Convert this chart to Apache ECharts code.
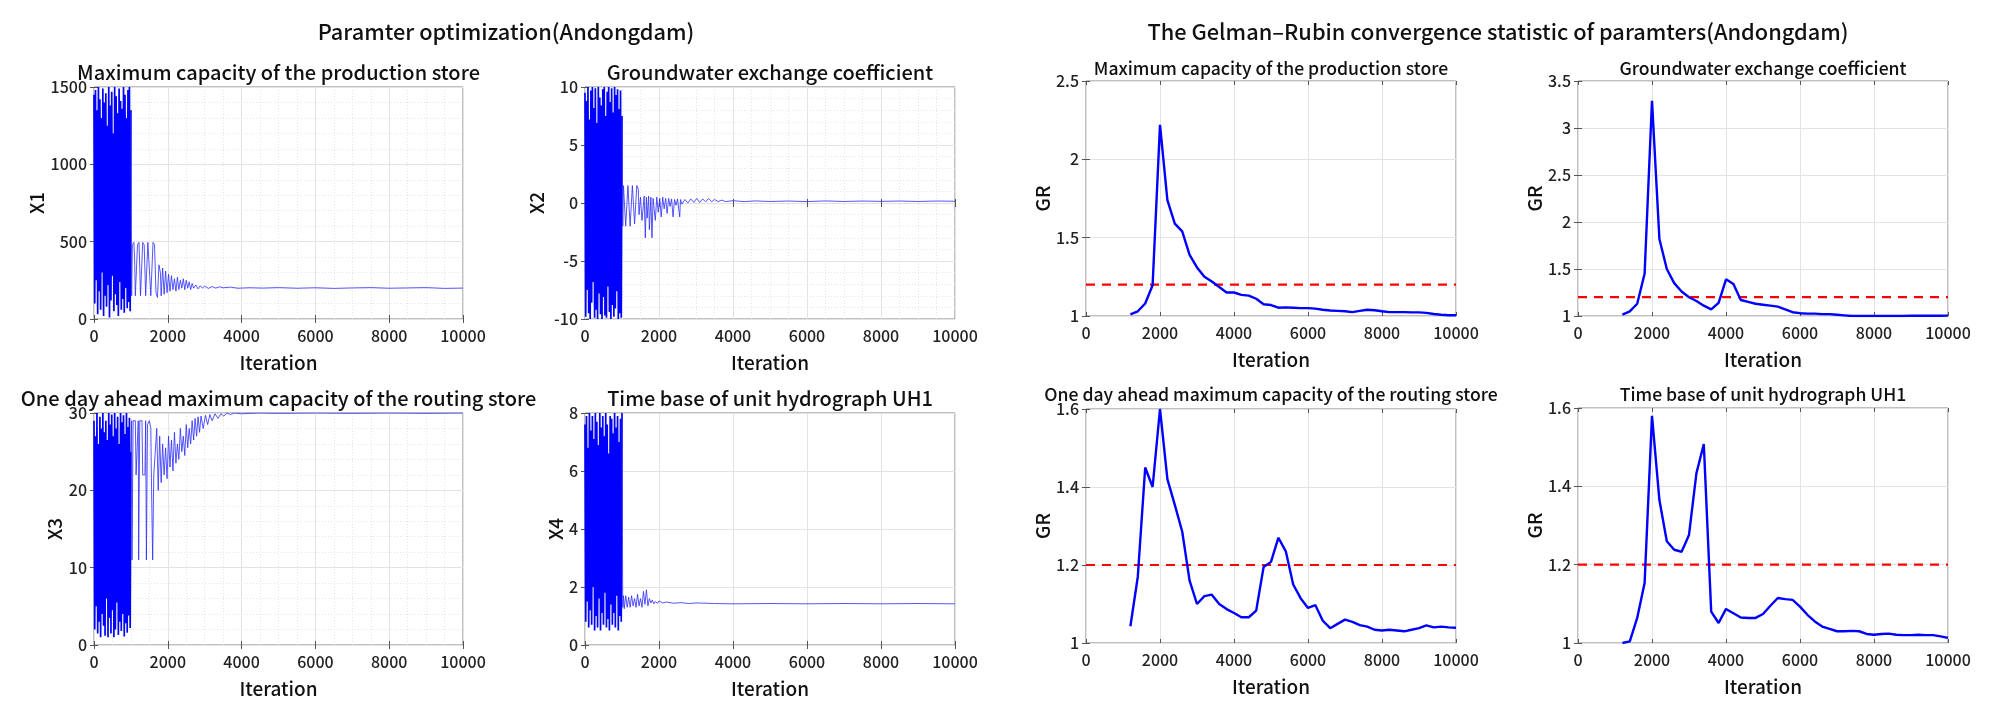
<!DOCTYPE html>
<html>
<head>
<meta charset="utf-8">
<script src="https://cdn.jsdelivr.net/npm/echarts@6/dist/echarts.min.js"></script>
<style>
html,body{margin:0;padding:0;background:#fff;}
#c{width:1999px;height:709px;}
</style>
</head>
<body>
<div id="c"></div>
<script>
// ---------------- DATA ----------------
const mainTitles = ['Paramter optimization(Andongdam)', 'The Gelman\u2013Rubin convergence statistic of paramters(Andongdam)'];
const panelTitles = [
  'Maximum capacity of the production store',
  'Groundwater exchange coefficient',
  'One day ahead maximum capacity of the routing store',
  'Time base of unit hydrograph UH1'
];
const paramNames = ['X1', 'X2', 'X3', 'X4'];
const xName = 'Iteration';
const grName = 'GR';
const grThreshold = 1.2;

// parameter traces: [iteration, value]; burn-in part (0-1000) and the rest
const x1Burn = [
 [0,1450],[20,100],[40,1480],[60,250],[80,1350],[100,30],[120,1500],[140,180],[160,1420],[180,60],
 [200,1300],[220,300],[240,1490],[260,20],[280,1400],[300,150],[320,1460],[340,80],[360,1250],[380,220],
 [400,1500],[420,10],[440,1380],[460,120],[480,1470],[500,280],[520,1200],[540,50],[560,1500],[580,160],
 [600,1440],[620,90],[640,1330],[660,20],[680,1490],[700,240],[720,1410],[740,60],[760,1360],[780,130],
 [800,1500],[820,40],[840,1450],[860,200],[880,1300],[900,70],[920,1480],[940,110],[960,1500],[980,50],[1000,1350]
];
const x1Tail = [
 [1020,150],[1040,480],[1080,495],[1100,400],[1120,150],[1160,140],[1180,480],[1220,495],[1260,150],[1300,140],
 [1320,495],[1360,480],[1400,150],[1440,140],[1460,495],[1500,490],[1540,150],[1580,140],[1600,495],[1640,480],
 [1680,170],[1720,140],[1760,350],[1800,300],[1820,150],[1860,330],[1900,160],[1940,310],[1980,170],[2020,290],
 [2060,180],[2100,280],[2140,190],[2180,260],[2220,180],[2260,270],[2300,190],[2340,250],[2380,200],[2420,260],
 [2460,190],[2500,250],[2540,200],[2580,240],[2620,190],[2660,230],[2700,200],[2760,220],[2820,195],[2880,215],
 [2940,200],[3000,212],[3100,198],[3200,210],[3300,200],[3400,208],[3500,202],[3700,206],[3900,199],[4200,202],
 [4600,200],[5000,203],[5500,199],[6000,202],[6500,198],[7000,201],[7500,203],[8000,199],[8500,201],[9000,203],
 [9500,198],[10000,200]
];
const x2Burn = [
 [0,9.5],[20,-9.8],[40,8.8],[60,-7.5],[80,10],[100,-9.5],[120,7.2],[140,-10],[160,9.7],[180,-8.6],
 [200,10],[220,-6.8],[240,8.2],[260,-9.9],[280,9.9],[300,-9.2],[320,6.9],[340,-10],[360,10],[380,-7.8],
 [400,9.1],[420,-9.6],[440,8.4],[460,-10],[480,9.8],[500,-8.1],[520,10],[540,-9.7],[560,7.5],[580,-9.9],
 [600,9.6],[620,-7.2],[640,10],[660,-9.4],[680,8.7],[700,-10],[720,9.9],[740,-8.8],[760,7.8],[780,-9.8],
 [800,10],[820,-9.1],[840,9.3],[860,-7.6],[880,9.8],[900,-10],[920,8.1],[940,-9.5],[960,9.7],[980,-9.9],[1000,7.5]
];
const x2Tail = [
 [1020,-2],[1040,1.5],[1080,1.5],[1100,-2],[1140,-2],[1160,1.5],[1200,1.5],[1220,-2],[1260,-2],[1280,1.5],
 [1320,1.5],[1340,-1.8],[1380,-1.8],[1400,1.5],[1440,1.2],[1460,-1],[1500,0.5],[1540,-1.5],[1600,0.6],[1630,-3],
 [1660,0.5],[1680,-1.3],[1720,0.6],[1740,-2.3],[1780,0.5],[1810,-3],[1840,0.4],[1900,-1.5],[1940,0.5],[1980,-0.8],
 [2020,0.4],[2060,-1.2],[2100,0.5],[2140,-0.5],[2180,0.4],[2220,-0.9],[2260,0.4],[2300,-0.3],[2340,0.35],[2380,-1.2],
 [2420,0.3],[2460,-0.2],[2500,0.35],[2560,-1.2],[2580,0.3],[2620,-0.1],[2700,0.3],[2780,0],[2860,0.35],[2940,0.05],
 [3020,0.4],[3100,0.05],[3180,0.35],[3260,0.1],[3340,0.4],[3420,0.1],[3500,0.3],[3600,0.12],[3700,0.25],[3800,0.12],
 [4000,0.2],[4300,0.12],[4600,0.18],[5000,0.13],[5500,0.17],[6000,0.12],[6500,0.18],[7000,0.13],[7500,0.17],[8000,0.14],
 [8500,0.17],[9000,0.13],[9500,0.17],[10000,0.15]
];
const x3Burn = [
 [0,29],[20,2],[40,27],[60,5],[80,30],[100,1.5],[120,26],[140,3],[160,29.5],[180,1],
 [200,28],[220,4],[240,30],[260,2.5],[280,27.5],[300,1.2],[320,29],[340,6],[360,26.5],[380,1],
 [400,30],[420,3.5],[440,28.5],[460,1.5],[480,29.8],[500,4.5],[520,27],[540,1],[560,30],[580,2],
 [600,28],[620,5.5],[640,29.5],[660,1.3],[680,26],[700,3],[720,30],[740,1.8],[760,28.8],[780,4],
 [800,29.7],[820,1.1],[840,27.3],[860,2.8],[880,30],[900,1.6],[920,28.2],[940,3.8],[960,29.4],[980,2.2],[1000,25]
];
const x3Tail = [
 [1020,29],[1030,11],[1050,11],[1060,29],[1120,29],[1140,22],[1180,22],[1200,29],[1210,11],[1230,11],
 [1240,29],[1300,29],[1320,22],[1380,22],[1400,29],[1420,11],[1440,11],[1450,28.5],[1500,29],[1540,28],
 [1560,20],[1580,20],[1590,11],[1610,11],[1620,22],[1700,28],[1740,20],[1780,27],[1820,21],[1860,26],
 [1900,22],[1940,25.5],[1980,21.5],[2020,27],[2060,23],[2100,26.5],[2140,22.5],[2180,27.5],[2220,23.5],[2260,26],
 [2300,24],[2340,28],[2380,25],[2420,27],[2460,24.5],[2500,28.5],[2540,25.5],[2580,28],[2620,26],[2660,29],
 [2700,26.5],[2740,29.3],[2780,27],[2820,29.5],[2860,27.5],[2900,29.6],[2960,28],[3020,29.7],[3080,28.5],[3140,29.8],
 [3200,29],[3280,29.9],[3360,29.3],[3440,29.9],[3520,29.6],[3600,30],[3700,29.8],[3800,30],[4000,29.9],[4500,30],
 [5000,29.95],[6000,30],[7000,29.95],[8000,30],[9000,29.95],[10000,30]
];
const x4Burn = [
 [0,7.6],[20,0.8],[40,7.9],[60,1.5],[80,6.8],[100,0.6],[120,8],[140,1.2],[160,7.4],[180,0.7],
 [200,7.9],[220,2],[240,7.1],[260,0.5],[280,8],[300,1],[320,7.7],[340,0.6],[360,6.9],[380,1.6],
 [400,8],[420,0.5],[440,7.5],[460,1.1],[480,7.9],[500,0.7],[520,7.2],[540,1.8],[560,8],[580,0.6],
 [600,7.6],[620,0.9],[640,6.6],[660,0.5],[680,7.9],[700,1.4],[720,7.8],[740,0.7],[760,7.3],[780,1.1],
 [800,8],[820,0.6],[840,7.5],[860,1.7],[880,7.9],[900,0.5],[920,7],[940,1],[960,7.8],[980,0.8],[1000,8]
];
const x4Tail = [
 [1020,1.3],[1040,1.7],[1060,1.25],[1100,1.7],[1140,1.3],[1180,1.65],[1220,1.3],[1260,1.7],[1300,1.35],[1340,1.6],
 [1380,1.3],[1420,1.75],[1460,1.35],[1500,1.6],[1540,1.3],[1580,1.85],[1620,1.4],[1660,1.9],[1700,1.35],[1740,1.6],
 [1780,1.45],[1820,1.55],[1860,1.42],[1900,1.5],[1960,1.44],[2000,1.52],[2100,1.45],[2200,1.48],[2400,1.44],[2600,1.46],
 [2800,1.43],[3000,1.45],[3500,1.43],[4000,1.42],[5000,1.43],[6000,1.42],[7000,1.43],[8000,1.42],[9000,1.43],[10000,1.42]
];

// Gelman-Rubin statistic sampled every 200 iterations from 1200
const grIter = [1200,1400,1600,1800,2000,2200,2400,2600,2800,3000,3200,3400,3600,3800,4000,4200,4400,4600,4800,5000,
 5200,5400,5600,5800,6000,6200,6400,6600,6800,7000,7200,7400,7600,7800,8000,8200,8400,8600,8800,9000,9200,9400,9600,9800,10000];
const gr1 = [1.01,1.03,1.08,1.196,2.22,1.74,1.59,1.54,1.39,1.31,1.25,1.22,1.185,1.15,1.15,1.135,1.13,1.11,1.075,1.07,
 1.053,1.055,1.053,1.05,1.05,1.047,1.04,1.035,1.033,1.03,1.025,1.033,1.04,1.037,1.03,1.025,1.025,1.025,1.023,1.023,1.02,1.013,1.008,1.005,1.005];
const gr2 = [1.014,1.05,1.13,1.45,3.29,1.82,1.50,1.35,1.26,1.20,1.16,1.11,1.07,1.14,1.39,1.34,1.17,1.15,1.13,1.12,
 1.11,1.10,1.07,1.04,1.03,1.025,1.025,1.02,1.02,1.014,1.007,1.0,1.0,1.0,1.0,1.0,1.0,1.0,1.0,1.003,1.004,1.003,1.002,1.003,1.004];
const gr3 = [1.043,1.17,1.45,1.40,1.60,1.42,1.354,1.286,1.16,1.10,1.12,1.124,1.10,1.087,1.077,1.066,1.066,1.083,1.195,1.208,
 1.27,1.235,1.15,1.115,1.09,1.097,1.057,1.038,1.049,1.06,1.054,1.046,1.042,1.034,1.032,1.034,1.032,1.03,1.034,1.038,1.045,1.04,1.042,1.04,1.039];
const gr4 = [1.0,1.004,1.064,1.153,1.58,1.365,1.26,1.238,1.233,1.276,1.433,1.508,1.08,1.051,1.087,1.076,1.065,1.064,1.064,1.074,
 1.095,1.115,1.112,1.11,1.093,1.072,1.055,1.042,1.036,1.03,1.03,1.031,1.03,1.023,1.021,1.023,1.024,1.021,1.02,1.02,1.021,1.02,1.02,1.017,1.013];

// ---------------- LAYOUT ----------------
const FONT = '"Noto Sans CJK KR", "Noto Sans", sans-serif';
const TXT = '#111';
const TW = 500;
const panels = [
  {grid:{left:94, top:87, width:369, height:232}, ymin:0, ymax:1500, yint:500, minor:true, yname:paramNames[0], ygap:46, burn:x1Burn, tail:x1Tail, title:panelTitles[0], ty:72, tsize:20},
  {grid:{left:585, top:87, width:370, height:232}, ymin:-10, ymax:10, yint:5, minor:true, yname:paramNames[1], ygap:39, burn:x2Burn, tail:x2Tail, title:panelTitles[1], ty:72, tsize:20},
  {grid:{left:94, top:413, width:369, height:232}, ymin:0, ymax:30, yint:10, minor:true, yname:paramNames[2], ygap:30, burn:x3Burn, tail:x3Tail, title:panelTitles[2], ty:398, tsize:20},
  {grid:{left:585, top:413, width:370, height:232}, ymin:0, ymax:8, yint:2, minor:false, yname:paramNames[3], ygap:20, burn:x4Burn, tail:x4Tail, title:panelTitles[3], ty:398, tsize:20},
  {grid:{left:1086, top:81, width:370, height:235}, ymin:1, ymax:2.5, yint:0.5, minor:false, yname:grName, ygap:33, gr:gr1, title:panelTitles[0], ty:68, tsize:17.6},
  {grid:{left:1578, top:81, width:370, height:235}, ymin:1, ymax:3.5, yint:0.5, minor:false, yname:grName, ygap:34, gr:gr2, title:panelTitles[1], ty:68, tsize:17.6},
  {grid:{left:1086, top:409, width:370, height:234}, ymin:1, ymax:1.6, yint:0.2, minor:false, yname:grName, ygap:33, gr:gr3, title:panelTitles[2], ty:394, tsize:17.6},
  {grid:{left:1578, top:408, width:370, height:235}, ymin:1, ymax:1.6, yint:0.2, minor:false, yname:grName, ygap:34, gr:gr4, title:panelTitles[3], ty:394, tsize:17.6}
];

const grids = [], xAxes = [], yAxes = [], series = [], graphics = [];
const fmt = v => String(+(+v).toFixed(3));
const tickStyle = {show:true, inside:true, length:4, lineStyle:{color:'#555', width:1}};
const N = panels.length;
const nameStyle = {fontFamily:FONT, fontSize:19, fontWeight:TW, color:TXT};
const labStyle = {fontFamily:FONT, fontSize:16, fontWeight:TW, color:'#222'};

panels.forEach((p, i) => {
  grids.push(Object.assign({show:true, borderColor:'#808080', borderWidth:1, backgroundColor:'#fff', containLabel:false}, p.grid));
  xAxes[i] = {
    type:'value', gridIndex:i, min:0, max:10000, interval:2000, position:'bottom',
    name:xName, nameLocation:'middle', nameGap:34, nameTextStyle:nameStyle,
    axisLine:{show:false}, axisTick:tickStyle,
    axisLabel:Object.assign({margin:9, formatter:fmt}, labStyle),
    splitLine:{show:true, lineStyle:{color:'#e3e3e3', width:1}},
    minorTick:{show:false, splitNumber:4},
    minorSplitLine:{show:p.minor, lineStyle:{color:'#e4e4e4', width:1, type:[1,2]}}
  };
  yAxes[i] = {
    type:'value', gridIndex:i, min:p.ymin, max:p.ymax, interval:p.yint, position:'left',
    name:p.yname, nameLocation:'middle', nameGap:p.ygap, nameRotate:90, nameTextStyle:nameStyle,
    axisLine:{show:false}, axisTick:tickStyle,
    axisLabel:Object.assign({margin:7, formatter:fmt}, labStyle),
    splitLine:{show:true, lineStyle:{color:'#e3e3e3', width:1}},
    minorTick:{show:false, splitNumber:5},
    minorSplitLine:{show:p.minor, lineStyle:{color:'#e4e4e4', width:1, type:[1,2]}}
  };
  xAxes[N + i] = {type:'value', gridIndex:i, min:0, max:10000, interval:2000, position:'top',
    axisLine:{show:false}, axisTick:tickStyle, axisLabel:{show:false}, splitLine:{show:false}};
  yAxes[N + i] = {type:'value', gridIndex:i, min:p.ymin, max:p.ymax, interval:p.yint, position:'right',
    axisLine:{show:false}, axisTick:tickStyle, axisLabel:{show:false}, splitLine:{show:false}};

  if (p.burn) {
    series.push({type:'line', xAxisIndex:i, yAxisIndex:i, data:p.burn, showSymbol:false, symbol:'none',
      lineStyle:{color:'#0000ff', width:1.7}, animation:false, silent:true});
    series.push({type:'line', xAxisIndex:i, yAxisIndex:i, data:[p.burn[p.burn.length - 1]].concat(p.tail), showSymbol:false, symbol:'none',
      lineStyle:{color:'#2b2bff', width:0.8}, animation:false, silent:true});
  } else {
    series.push({type:'line', xAxisIndex:i, yAxisIndex:i, data:[[0, grThreshold],[10000, grThreshold]], showSymbol:false, symbol:'none',
      lineStyle:{color:'#ff0000', width:2.2, type:[9,7]}, animation:false, silent:true, z:3});
    series.push({type:'line', xAxisIndex:i, yAxisIndex:i, data:grIter.map((it, k) => [it, p.gr[k]]), showSymbol:false, symbol:'none',
      lineStyle:{color:'#0000ff', width:2.4}, animation:false, silent:true, z:4});
  }
  graphics.push({type:'text', x:p.grid.left + p.grid.width/2, y:p.ty,
    style:{text:p.title, fontFamily:FONT, fontSize:p.tsize, fontWeight:TW, fill:TXT, textAlign:'center', textVerticalAlign:'middle'}});
});

graphics.push({type:'text', x:506, y:32, style:{text:mainTitles[0], fontFamily:FONT, fontSize:21.8, fontWeight:TW, fill:TXT, textAlign:'center', textVerticalAlign:'middle'}});
graphics.push({type:'text', x:1498, y:32, style:{text:mainTitles[1], fontFamily:FONT, fontSize:21.8, fontWeight:TW, fill:TXT, textAlign:'center', textVerticalAlign:'middle'}});

const chart = echarts.init(document.getElementById('c'), null, {renderer:'canvas'});
chart.setOption({
  backgroundColor:'#ffffff',
  animation:false,
  grid:grids, xAxis:xAxes, yAxis:yAxes, series:series, graphic:graphics
});
</script>
</body>
</html>
